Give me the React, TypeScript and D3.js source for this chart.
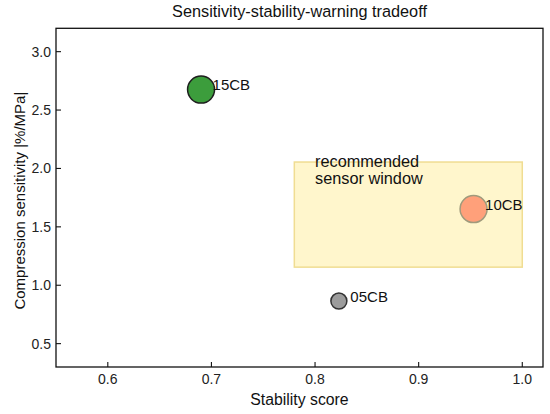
import React from "react";
import * as d3 from "d3";

const W = 550;
const H = 414;

const xDomain = [0.55, 1.02];
const yDomain = [0.3, 3.2];
const xTicks = [0.6, 0.7, 0.8, 0.9, 1.0];
const yTicks = [0.5, 1.0, 1.5, 2.0, 2.5, 3.0];

const names = ["15CB", "10CB", "05CB"];
const stability = [0.69, 0.953, 0.823];
const sensitivity = [2.675, 1.652, 0.865];
const radii = [13.5, 13.5, 8];
const fills = ["#3c9d3c", "#ffa07a", "#9c9c9c"];
const strokes = ["#1e1e1e", "#a09a7c", "#333333"];

const windowX = [0.78, 1.0];
const windowY = [1.155, 2.055];
const windowLabel = ["recommended", "sensor window"];
const windowLabelPos = [0.80, 2.1];

const margin = { left: 56, right: 7, top: 28.3, bottom: 47 };

export default function App() {
  const x = d3.scaleLinear().domain(xDomain).range([margin.left, W - margin.right]);
  const y = d3.scaleLinear().domain(yDomain).range([H - margin.bottom, margin.top]);
  const font = "'Liberation Sans', Arial, Helvetica, sans-serif";
  const x0 = x.range()[0], x1 = x.range()[1];
  const y0 = y.range()[0], y1 = y.range()[1];

  return (
    <svg width={W} height={H} style={{ position: "absolute", left: 0, top: 0, background: "#fff" }} fontFamily={font}>
      <rect x={0} y={0} width={W} height={H} fill="#fff" />
      {/* recommended window */}
      <rect
        x={x(windowX[0])}
        y={y(windowY[1])}
        width={x(windowX[1]) - x(windowX[0])}
        height={y(windowY[0]) - y(windowY[1])}
        fill="#fff6cc"
        stroke="#f0dd92"
        strokeWidth={1.5}
      />
      <text x={x(windowLabelPos[0])} y={166.7} fontSize={16.3} fill="#111">
        <tspan x={x(windowLabelPos[0])}>{windowLabel[0]}</tspan>
        <tspan x={x(windowLabelPos[0])} dy={17.6}>{windowLabel[1]}</tspan>
      </text>
      {/* points */}
      {names.map((n, i) => (
        <g key={n}>
          <circle
            cx={x(stability[i])}
            cy={y(sensitivity[i])}
            r={radii[i]}
            fill={fills[i]}
            stroke={strokes[i]}
            strokeWidth={1.5}
          />
          <text x={x(stability[i]) + 11.5} y={y(sensitivity[i]) + 0.8} fontSize={15} fill="#111">
            {n}
          </text>
        </g>
      ))}
      {/* axes frame */}
      <rect x={x0} y={y1} width={x1 - x0} height={y0 - y1} fill="none" stroke="#111" strokeWidth={1.3} />
      {xTicks.map((t) => (
        <g key={"x" + t}>
          <line x1={x(t)} x2={x(t)} y1={y0} y2={y0 - 5} stroke="#111" strokeWidth={1.1} />
          <text x={x(t)} y={383.5} fontSize={14} textAnchor="middle" fill="#222">
            {t.toFixed(1)}
          </text>
        </g>
      ))}
      {yTicks.map((t) => (
        <g key={"y" + t}>
          <line x1={x0} x2={x0 + 5} y1={y(t)} y2={y(t)} stroke="#111" strokeWidth={1.1} />
          <text x={x0 - 5} y={y(t) + 5} fontSize={14} textAnchor="end" fill="#222">
            {t.toFixed(1)}
          </text>
        </g>
      ))}
      <text x={(x0 + x1) / 2} y={405} fontSize={15.8} textAnchor="middle" fill="#111">
        Stability score
      </text>
      <text
        transform={`translate(24.5, ${(y0 + y1) / 2 + 3}) rotate(-90)`}
        fontSize={15}
        textAnchor="middle"
        fill="#111"
      >
        Compression sensitivity |%/MPa|
      </text>
      <text x={(x0 + x1) / 2} y={17.3} fontSize={16.3} textAnchor="middle" fill="#111">
        Sensitivity-stability-warning tradeoff
      </text>
    </svg>
  );
}
